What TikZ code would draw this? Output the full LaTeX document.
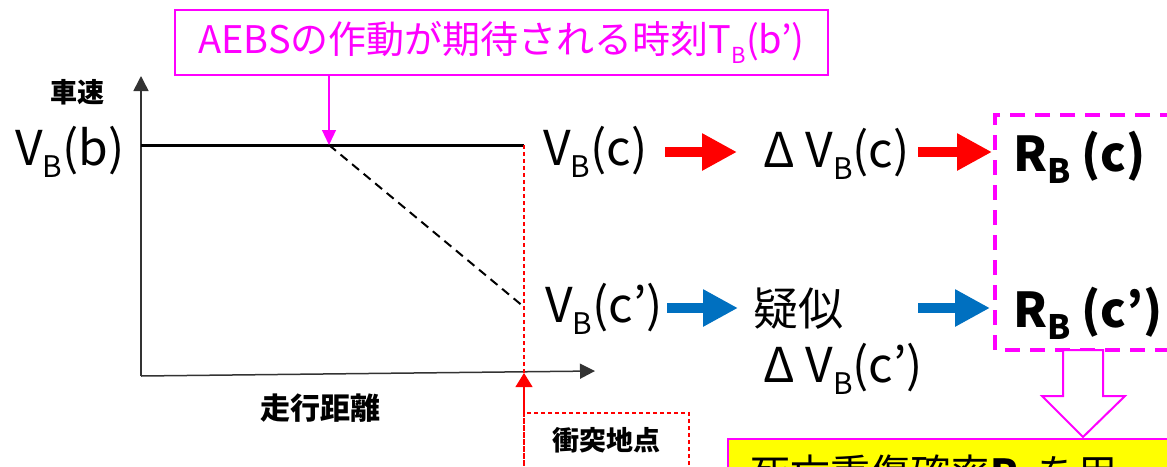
\documentclass[tikz,border=0pt]{standalone}
\usepackage{fontspec}
\setmainfont{Noto Sans CJK JP}
\usetikzlibrary{arrows.meta}
\definecolor{mag}{HTML}{FF00FF}
\definecolor{rd}{HTML}{FF0000}
\definecolor{bl}{HTML}{0070C0}
\definecolor{yl}{HTML}{FFFF00}
\newcommand\lowsub[2][0.62]{\raisebox{-0.25em}{\scalebox{#1}{#2}}}
\newcommand\fs[1]{\fontsize{#1}{#1}\selectfont}
\tikzset{
  txt/.style={inner sep=0, anchor=base west},
  lbl/.style={inner sep=0, font=\fs{27}\bfseries},
  axis/.style={line width=1.5, draw=black!80, -{Triangle[length=15,width=15]}},
  fatred/.style={line width=10, draw=rd, -{Triangle[length=35pt 0 0,width=35pt 0 0]}},
  fatblue/.style={line width=10, draw=bl, -{Triangle[length=35pt 0 0,width=35pt 0 0]}},
}
\begin{document}
\begin{tikzpicture}[x=1pt,y=-1pt]
\useasboundingbox (0,0) rectangle (1167,466);
\clip (0,0) rectangle (1167,466);

% axes
\coordinate (O) at (141,376);
\coordinate (ytop) at (141,76);
\coordinate (xend) at (595,371);
\draw[axis] (O) -- (ytop);
\draw[axis] (O) -- (xend);

\node[lbl] (speed) at (77,92) {車速};
\node[lbl, font=\fs{30}\bfseries] (dist) at (320,408) {走行距離};

% speed lines
\coordinate (vstart) at (141,145);
\coordinate (tb) at (329,145);
\coordinate (vend) at (524,145);
\coordinate (cprime) at (524,307);
\draw[line width=3] (vstart) -- (vend);
\draw[line width=2, dash pattern=on 9 off 6] (tb) -- (cprime);

% collision point
\coordinate (cbot) at (524,466);
\coordinate (ctip) at (524,373);
\coordinate (cbase) at (524,413);
\coordinate (cboxr) at (689,500);
\draw[rd, line width=1.2, dash pattern=on 4 off 3] (vend) -- (cbot);
\draw[rd, line width=1.2, -{Triangle[length=14,width=17]}] (cbase) -- (ctip);
\draw[rd, line width=1.5, dash pattern=on 4 off 3] (cbase) rectangle (cboxr);
\node[lbl] (coll) at (606,440) {衝突地点};

% top label
\node[draw=mag, line width=1.5, minimum width=653, minimum height=65, inner sep=0,
      text=mag, font=\fs{38}] (aebs) at (501.5,42.5) {AEBSの作動が期待される時刻T\lowsub[0.58]{B}(b’)};
\draw[mag, line width=1.2, -{Triangle[length=15,width=14]}] (aebs.south -| tb) -- (tb);

% texts
\node[txt, font=\fs{48}] (vbb) at (15,165) {V\lowsub{B}(b)};
\node[txt, font=\fs{48}] (vbc) at (543,165) {V\lowsub{B}(c)};
\node[txt, font=\fs{48}] (vbcp) at (545,322) {V\lowsub{B}(c’)};
\node[txt, font=\fs{48}] (dvbc) at (763,167) {Δ V\lowsub{B}(c)};
\node[txt, font=\fs{45}] (giji) at (753,325) {疑似};
\node[txt, font=\fs{48}] (dvbcp) at (763,382) {Δ V\lowsub{B}(c’)};
\node[txt, font=\fs{48}\bfseries] (rbc) at (1013,171) {R\lowsub[0.7]{B} (c)};
\node[txt, font=\fs{48}\bfseries] (rbcp) at (1013,327) {R\lowsub[0.7]{B} (c’)};

% fat arrows
\coordinate (r1s) at (665,152); \coordinate (r1e) at (737,152);
\coordinate (r2s) at (918,152); \coordinate (r2e) at (992,152);
\coordinate (b1s) at (667,308); \coordinate (b1e) at (738,308);
\coordinate (b2s) at (918,308); \coordinate (b2e) at (990,308);
\draw[fatred] (r1s) -- (r1e);
\draw[fatred] (r2s) -- (r2e);
\draw[fatblue] (b1s) -- (b1e);
\draw[fatblue] (b2s) -- (b2e);

% magenta dashed box
\draw[mag, line width=4, dash pattern=on 15 off 10] (1250,115) -- (995,115) -- (995,350) -- (1250,350);

% hollow down arrow
\draw[mag, line width=2, fill=white, line join=miter]
  (1063,350) -- (1103,350) -- (1103,396) -- (1125,396) -- (1083,437) -- (1042,396) -- (1063,396) -- cycle;

% yellow box
\node[draw=mag, fill=yl, line width=2, anchor=north west, minimum width=500,
      minimum height=80, inner sep=0] (ybox) at (727,438) {};
\node[txt, font=\fs{40}] (ytext) at (750,488) {死亡重傷確率{\bfseries R\lowsub[0.7]{B}}を用};
\end{tikzpicture}
\end{document}
